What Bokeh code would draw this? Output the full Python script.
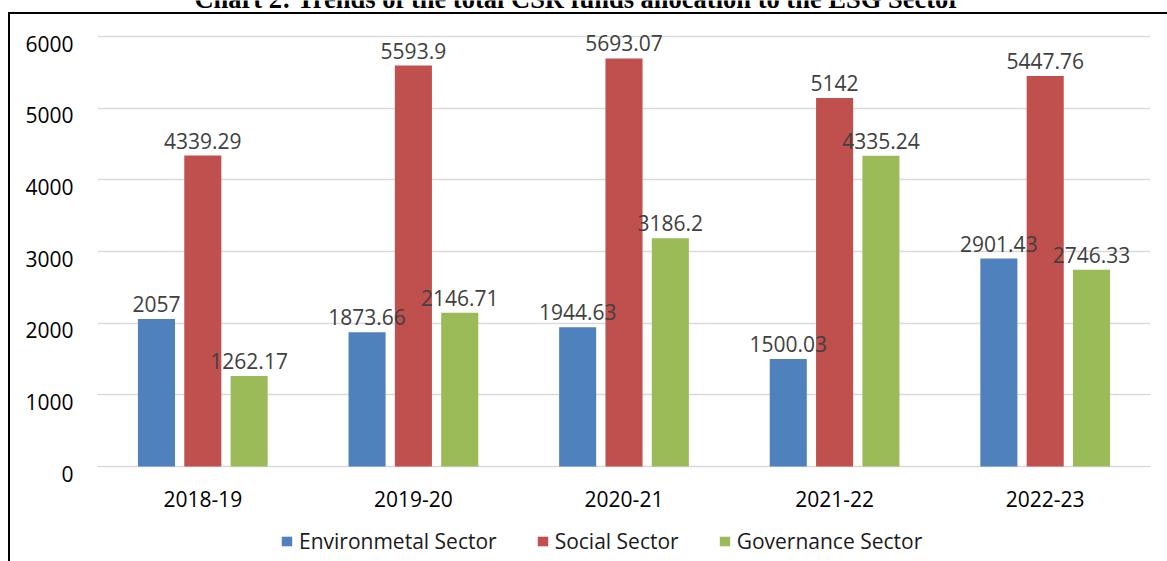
from bokeh.plotting import figure
from bokeh.models import (FactorRange, Range1d, LinearAxis, FixedTicker, Legend, LegendItem,
                          LabelSet, Label, ColumnDataSource)
from bokeh.transform import dodge
from bokeh.embed import file_html
from bokeh.resources import INLINE
from bokeh.core.properties import value

# ---------------- data ----------------
title_text = "Chart 2: Trends of the total CSR funds allocation to the ESG Sector"
years = ["2018-19", "2019-20", "2020-21", "2021-22", "2022-23"]
environmental = [2057, 1873.66, 1944.63, 1500.03, 2901.43]
social = [4339.29, 5593.9, 5693.07, 5142, 5447.76]
governance = [1262.17, 2146.71, 3186.2, 4335.24, 2746.33]
series_names = ["Environmetal Sector", "Social Sector", "Governance Sector"]
y_ticks = [0, 1000, 2000, 3000, 4000, 5000, 6000]
y_max = 6000

# ---------------- layout constants (page pixels) ----------------
W, H = 1167, 561
GRID_TOP, ZERO_Y = 36, 466             # page y of the 6000 and 0 grid lines
FR_LEFT, FR_RIGHT, FR_TOP, FR_BOTTOM = 97, 1150, 0, H
CAT_BASELINE = 506                     # page y of the category label baseline
k = (ZERO_Y - GRID_TOP) / y_max        # px per unit
y_start = -(FR_BOTTOM - ZERO_Y) / k
y_end = y_max + (GRID_TOP - FR_TOP) / k
label_shift = 7 / k                    # tick labels sit ~7px under their grid lines
y_cat = -(CAT_BASELINE - ZERO_Y) / k

FONT = "Open Sans"
colors = ["#4f81bd", "#c0504d", "#9bbb59"]

fmt = lambda v: f"{v:g}"
src = ColumnDataSource(dict(
    years=years,
    env=environmental, soc=social, gov=governance,
    env_l=[fmt(v) for v in environmental],
    soc_l=[fmt(v) for v in social],
    gov_l=[fmt(v) for v in governance],
))

# chart box border (left + top lines) drawn as the page background behind the transparent canvas
box_css = ("linear-gradient(#000,#000) 8px 12px / 2px 100% no-repeat, "
           "linear-gradient(#000,#000) 8px 12px / 100% 2px no-repeat, #ffffff")

p = figure(x_range=FactorRange(factors=years), y_range=Range1d(y_start, y_end),
           frame_width=FR_RIGHT - FR_LEFT, frame_height=FR_BOTTOM - FR_TOP, title=None,
           min_border_left=FR_LEFT, min_border_right=W - FR_RIGHT,
           min_border_top=0, min_border_bottom=0,
           output_backend="svg", toolbar_location=None,
           x_axis_location=None, y_axis_location=None,
           styles={"background": box_css})
p.outline_line_color = None
p.background_fill_alpha = 0
p.border_fill_alpha = 0

# grid
p.xgrid.visible = False
p.ygrid.ticker = FixedTicker(ticks=y_ticks)
p.ygrid.grid_line_color = "#d9d9d9"
p.ygrid.grid_line_width = 1.5

# y axis (labels slightly below grid lines, as in the reference)
p.extra_y_ranges = {"lab": Range1d(y_start + label_shift, y_end + label_shift)}
ya = LinearAxis(y_range_name="lab", ticker=FixedTicker(ticks=y_ticks))
ya.axis_line_color = None
ya.major_tick_line_color = None
ya.minor_tick_line_color = None
ya.major_tick_out = 0
ya.major_tick_in = 0
ya.major_label_standoff = 24
ya.major_label_text_font = FONT
ya.major_label_text_font_size = "21px"
ya.major_label_text_color = "#000000"
p.add_layout(ya, "left")

# category labels under the zero line
p.add_layout(LabelSet(x="years", y=y_cat, text="years", source=src,
                      text_align="center", text_baseline="alphabetic",
                      text_font=value(FONT), text_font_size="21px", text_color="#000000"))

# bars + value labels
offs = [-0.22, 0.0, 0.22]
fields = ["env", "soc", "gov"]
renderers = []
for f, o, c in zip(fields, offs, colors):
    r = p.vbar(x=dodge("years", o, range=p.x_range), top=f, bottom=0, width=0.176,
               source=src, fill_color=c, line_color=None)
    renderers.append(r)
    p.add_layout(LabelSet(x=dodge("years", o, range=p.x_range), y=f, text=f + "_l",
                          source=src, text_align="center", text_baseline="alphabetic",
                          y_offset=7, text_font=value(FONT), text_font_size="21px",
                          text_color="#404040"))

# legend at the bottom of the box
items = [LegendItem(label=n, renderers=[r]) for n, r in zip(series_names, renderers)]
legend = Legend(items=items, orientation="horizontal", location=(280 - FR_LEFT, 6.5),
                padding=0, margin=0, spacing=39, label_standoff=6,
                glyph_width=13, glyph_height=12,
                border_line_color=None, background_fill_alpha=0,
                label_text_font=FONT, label_text_font_size="21px", label_text_color="#1a1a1a")
p.add_layout(legend)

# title (cut by the page top as in the reference)
p.add_layout(Label(x=577 - FR_LEFT, y=FR_BOTTOM + 2, x_units="screen", y_units="screen",
                   text=title_text, text_align="center", text_baseline="alphabetic",
                   text_font="Liberation Serif", text_font_style="bold",
                   text_font_size="26.5px", text_color="black"))

open("out.html", "w").write(file_html(p, INLINE))
